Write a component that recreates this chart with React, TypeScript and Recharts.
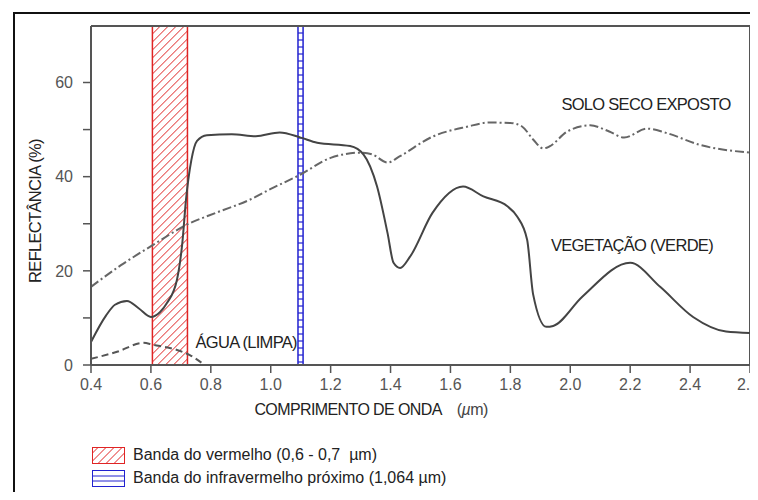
import React from 'react'
import { LineChart, Line, XAxis, YAxis, ReferenceArea, ReferenceLine, ReferenceDot } from 'recharts'

// wavelengths (µm) and reflectance (%)
const vegWavelength = [0.4, 0.45, 0.48, 0.52, 0.56, 0.6, 0.63, 0.654, 0.687, 0.705, 0.717, 0.735, 0.754, 0.787, 0.87, 0.95, 1.03, 1.1, 1.155, 1.265, 1.31, 1.355, 1.39, 1.41, 1.432, 1.465, 1.54, 1.642, 1.71, 1.79, 1.822, 1.856, 1.876, 1.92, 1.943, 2.04, 2.2, 2.3, 2.41, 2.52, 2.6]
const vegReflectance = [4.9, 10.5, 12.8, 13.6, 12.0, 10.2, 11.2, 13.2, 18.1, 26, 35, 43.5, 47.6, 48.8, 49.0, 48.6, 49.4, 48.3, 47.2, 46.5, 44.7, 37.9, 28, 21.7, 20.6, 23, 32.3, 37.9, 35.8, 33.7, 31.6, 26.6, 15, 8.1, 8.3, 14.5, 21.7, 16.6, 10.2, 7.1, 6.8]

const soilWavelength = [0.4, 0.5, 0.607, 0.72, 0.82, 0.93, 1.0, 1.098, 1.2, 1.3, 1.34, 1.39, 1.43, 1.54, 1.655, 1.73, 1.8, 1.84, 1.876, 1.91, 1.93, 1.99, 2.066, 2.13, 2.18, 2.256, 2.32, 2.43, 2.6]
const soilReflectance = [16.6, 21.2, 25.5, 29.8, 32.4, 35.1, 37.4, 40.4, 44, 45.1, 44.7, 43, 44.3, 48.5, 50.6, 51.5, 51.4, 50.6, 47.9, 46, 46.4, 49.6, 50.9, 49.6, 48.3, 50.2, 49.3, 46.8, 45.1]

const waterWavelength = [0.4, 0.487, 0.575, 0.607, 0.687, 0.73, 0.775]
const waterReflectance = [1.3, 2.8, 4.7, 4.3, 3.2, 2.1, 0.2]

const xTicks = [0.4, 0.6, 0.8, 1.0, 1.2, 1.4, 1.6, 1.8, 2.0, 2.2, 2.4, 2.6]
const yTicks = [0, 10, 20, 30, 40, 50, 60]

const redBand = [0.605, 0.722]
const nirBand = [1.091, 1.108]

const toPoints = (xs: number[], ys: number[]) => xs.map((x, i) => ({ x, y: ys[i] }))

const vegData = toPoints(vegWavelength, vegReflectance)
const soilData = toPoints(soilWavelength, soilReflectance)
const waterData = toPoints(waterWavelength, waterReflectance)

const FONT = '"Liberation Sans", Arial, sans-serif'
const AXIS = '#555'
const RED = '#e02424'
const BLUE = '#2222d0'
const tickStyle = { fontSize: 16, fill: '#555', fontFamily: FONT }
const curveLabel = { fontSize: 16.5, fill: '#222', fontFamily: FONT, letterSpacing: -0.7 }

// hatched rectangle for the red band, diagonal lines clipped by hand
function HatchRect(props: any) {
  const { x, y, width, height } = props
  const x0 = x, x1 = x + width, y0 = y, y1 = y + height
  const step = 8
  const lines = []
  for (let c = x0 + y0; c < x1 + y1 + step; c += step) {
    const sx = Math.max(x0, c - y1)
    const ex = Math.min(x1, c - y0)
    if (sx < ex) lines.push(<line key={c} x1={sx} y1={c - sx} x2={ex} y2={c - ex} stroke={RED} strokeWidth={1} />)
  }
  return (
    <g>
      <rect x={x} y={y} width={width} height={height} fill='#fff' fillOpacity={0} />
      {lines}
      <rect x={x} y={y} width={width} height={height} fill='none' stroke={RED} strokeWidth={1.5} />
    </g>
  )
}

// narrow blue band with horizontal rungs
function RungRect(props: any) {
  const { x, y, width, height } = props
  const rungs = []
  for (let r = y + 7; r < y + height; r += 7) {
    rungs.push(<line key={r} x1={x} x2={x + width} y1={r} y2={r} stroke={BLUE} strokeWidth={1.2} />)
  }
  return (
    <g>
      <rect x={x} y={y} width={width} height={height} fill='#fff' />
      {rungs}
      <rect x={x} y={y} width={width} height={height} fill='none' stroke={BLUE} strokeWidth={1.5} />
    </g>
  )
}

function RedSwatch() {
  return (
    <svg width={33} height={17}>
      <rect x={0.5} y={0.5} width={32} height={16} fill='#fff' stroke={RED} />
      {[6, 14, 22, 30, 38].map(k => (
        <line key={k} x1={k - 16} y1={16.5} x2={k} y2={0.5} stroke={RED} strokeWidth={1} />
      ))}
    </svg>
  )
}

function BlueSwatch() {
  return (
    <svg width={33} height={17}>
      <rect x={0.5} y={0.5} width={32} height={16} fill='#fff' stroke={BLUE} />
      <line x1={0} x2={33} y1={6} y2={6} stroke={BLUE} />
      <line x1={0} x2={33} y1={11} y2={11} stroke={BLUE} />
    </svg>
  )
}

export default function App() {
  return (
    <div style={{ margin: -8, width: 758, height: 500, position: 'relative', overflow: 'hidden', background: '#fff', fontFamily: FONT }}>
      <div style={{ position: 'absolute', left: 13, top: 12, width: 800, height: 600, borderLeft: '2px solid #111', borderTop: '2px solid #111' }} />
      <div style={{ position: 'absolute', left: 0, top: 0 }}>
        <LineChart width={758} height={500} margin={{ top: 26, right: 8, bottom: 105, left: 41 }}>
          <XAxis
            dataKey='x'
            type='number'
            domain={[0.4, 2.6]}
            ticks={xTicks}
            tickFormatter={(v: number) => v.toFixed(1)}
            allowDataOverflow
            height={30}
            tick={tickStyle}
            tickSize={8}
            tickMargin={6}
            axisLine={{ stroke: AXIS, strokeWidth: 2 }}
            tickLine={{ stroke: AXIS, strokeWidth: 1.5 }}
          />
          <YAxis
            type='number'
            domain={[0, 72]}
            ticks={yTicks}
            tickFormatter={(v: number) => (v % 20 === 0 ? String(v) : '')}
            allowDataOverflow
            width={50}
            tick={tickStyle}
            tickSize={8}
            tickMargin={10}
            axisLine={{ stroke: AXIS, strokeWidth: 2 }}
            tickLine={{ stroke: AXIS, strokeWidth: 1.5 }}
          />
          <ReferenceLine y={72} stroke={AXIS} strokeWidth={2} />
          <ReferenceLine x={2.6} stroke={AXIS} strokeWidth={2} />
          <ReferenceArea x1={redBand[0]} x2={redBand[1]} y1={0} y2={72} shape={(p: any) => <HatchRect {...p} />} />
          <Line data={soilData} dataKey='y' type='monotone' stroke='#666' strokeWidth={2} strokeDasharray='9 3 2 3' dot={false} isAnimationActive={false} />
          <Line data={waterData} dataKey='y' type='monotone' stroke='#555' strokeWidth={2} strokeDasharray='7 4' dot={false} isAnimationActive={false} />
          <Line data={vegData} dataKey='y' type='monotone' stroke='#444' strokeWidth={2} dot={false} isAnimationActive={false} />
          <ReferenceArea x1={nirBand[0]} x2={nirBand[1]} y1={0} y2={72} shape={(p: any) => <RungRect {...p} />} />
          <ReferenceDot x={2.253} y={55.3} r={0} label={{ value: 'SOLO SECO EXPOSTO', position: 'center', style: curveLabel }} />
          <ReferenceDot x={2.206} y={25.5} r={0} label={{ value: 'VEGETAÇÃO (VERDE)', position: 'center', style: curveLabel }} />
          <ReferenceDot x={0.918} y={4.9} r={0} label={{ value: 'ÁGUA (LIMPA)', position: 'center', style: curveLabel }} />
        </LineChart>
      </div>
      <div style={{ position: 'absolute', left: 35, top: 211, transform: 'translate(-50%, -50%) rotate(-90deg)', fontSize: 16.5, color: '#222', whiteSpace: 'nowrap', letterSpacing: -0.7 }}>
        REFLECTÂNCIA (%)
      </div>
      <div style={{ position: 'absolute', left: 371, top: 410, transform: 'translate(-50%, -50%)', fontSize: 16, color: '#222', whiteSpace: 'nowrap', letterSpacing: -0.6 }}>
        COMPRIMENTO DE ONDA <span style={{ marginLeft: 12, color: '#444', fontWeight: 300 }}>(<i>µ</i>m)</span>
      </div>
      <div style={{ position: 'absolute', left: 92, top: 446, display: 'flex', alignItems: 'center', gap: 8, fontSize: 16, color: '#222', whiteSpace: 'nowrap' }}>
        <RedSwatch />
        <span>Banda do vermelho (0,6 - 0,7 &nbsp;µm)</span>
      </div>
      <div style={{ position: 'absolute', left: 92, top: 469, display: 'flex', alignItems: 'center', gap: 8, fontSize: 16, color: '#222', whiteSpace: 'nowrap' }}>
        <BlueSwatch />
        <span>Banda do infravermelho próximo (1,064 µm)</span>
      </div>
    </div>
  )
}
